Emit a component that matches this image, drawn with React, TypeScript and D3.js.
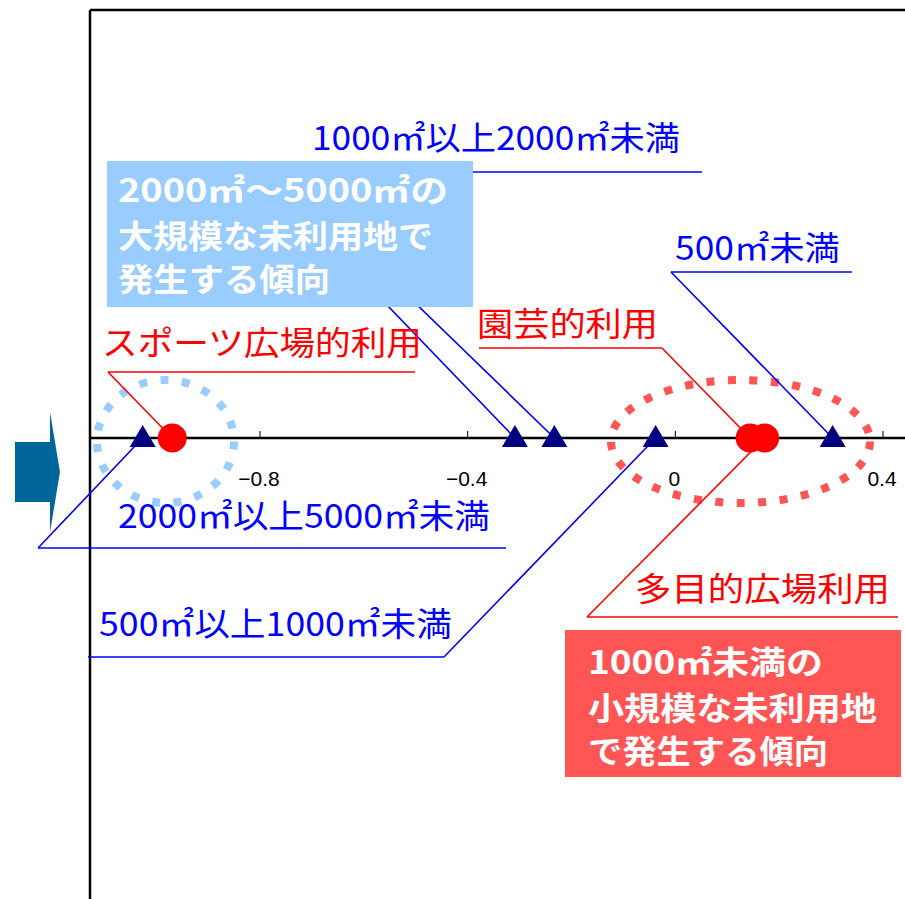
import React from "react";
import * as d3 from "d3";

// ---- data ----
const areaCategories = [
  "2000㎡以上5000㎡未満",
  "5000㎡以上",
  "1000㎡以上2000㎡未満",
  "500㎡以上1000㎡未満",
  "500㎡未満",
];
const areaValues = [-1.026, -0.309, -0.233, -0.038, 0.303];

const useCategories = ["スポーツ広場的利用", "園芸的利用", "多目的広場利用"];
const useValues = [-0.969, 0.144, 0.172];

const tickValues = [-0.8, -0.4, 0, 0.4];
const tickLabels = ["−0.8", "−0.4", "0", "0.4"];

const blueBoxLines = ["2000㎡～5000㎡の", "大規模な未利用地で", "発生する傾向"];
const redBoxLines = ["1000㎡未満の", "小規模な未利用地", "で発生する傾向"];

// ---- layout (positions of annotation labels) ----
type Lab = { tx: number; tw: number; by: number; uy: number; ux1: number; ux2: number; ax: number; show: boolean };
const areaLayout: Lab[] = [
  { tx: 118, tw: 372, by: 528, uy: 548, ux1: 38, ux2: 506, ax: 38, show: true },
  { tx: 0, tw: 0, by: 0, uy: 225, ux1: 310, ux2: 310, ax: 310, show: false },
  { tx: 312, tw: 368, by: 150, uy: 172, ux1: 280, ux2: 702, ax: 280, show: true },
  { tx: 99, tw: 353, by: 636, uy: 657, ux1: 88, ux2: 444, ax: 444, show: true },
  { tx: 675, tw: 165, by: 260, uy: 272, ux1: 671, ux2: 852, ax: 671, show: true },
];
const useLayout: Lab[] = [
  { tx: 102, tw: 320, by: 355, uy: 372, ux1: 108, ux2: 415, ax: 108, show: true },
  { tx: 477, tw: 181, by: 336, uy: 348, ux1: 479, ux2: 662, ax: 662, show: true },
  { tx: 635, tw: 255, by: 601, uy: 617, ux1: 587, ux2: 898, ax: 587, show: true },
];

const W = 905;
const H = 899;
const AXIS_Y = 438;
const FRAME_X = 90;
const FRAME_Y = 10;
const BLUE = "#0000FF";
const RED = "#FF0000";
const NAVY = "#000080";
const LBLUE = "#99CCFF";
const LRED = "#FF5555";
const CJK = "'Noto Sans CJK JP', 'Noto Sans', sans-serif";

export default function App() {
  const x = d3.scaleLinear().domain([-0.8, 0.4]).range([260, 883]);

  const tri = (cx: number, cy: number) => {
    const p = d3.path();
    p.moveTo(cx, cy - 13);
    p.lineTo(cx + 13, cy + 9);
    p.lineTo(cx - 13, cy + 9);
    p.closePath();
    return p.toString();
  };

  const blueBoxW = [330, 315, 212];
  const redBoxW = [235, 289, 240];
  const blueBoxBase = [202, 248, 291];
  const redBoxBase = [674, 720, 763];

  return (
    <svg width={W} height={H} style={{ position: "absolute", left: 0, top: 0, background: "#fff" }}>
      <rect x={0} y={0} width={W} height={H} fill="#fff" />
      {/* frame */}
      <line x1={FRAME_X} y1={FRAME_Y} x2={W} y2={FRAME_Y} stroke="#000" strokeWidth={2.5} />
      <line x1={FRAME_X} y1={FRAME_Y} x2={FRAME_X} y2={H} stroke="#000" strokeWidth={2.5} />

      {/* arrow */}
      <path d="M15,442 L50,442 L50,412 L60,472 L50,532 L50,502 L15,502 Z" fill="#006699" />

      {/* dotted ellipses */}
      <ellipse cx={165.5} cy={441.5} rx={68.5} ry={61.5} fill="none" stroke={LBLUE} strokeWidth={8} strokeDasharray="8 13.5" />
      <ellipse cx={740.5} cy={441.5} rx={129.5} ry={61.5} fill="none" stroke={LRED} strokeWidth={8} strokeDasharray="8 13.5" />

      {/* leader lines: area (blue) */}
      {areaValues.map((v, i) => {
        const L = areaLayout[i];
        return (
          <g key={"al" + i}>
            {L.ux2 !== L.ux1 && <line x1={L.ux1} y1={L.uy} x2={L.ux2} y2={L.uy} stroke={BLUE} strokeWidth={1.6} />}
            <line x1={L.ax} y1={L.uy} x2={x(v)} y2={AXIS_Y} stroke={BLUE} strokeWidth={1.6} />
          </g>
        );
      })}
      {/* leader lines: use (red) */}
      {useValues.map((v, i) => {
        const L = useLayout[i];
        return (
          <g key={"ul" + i}>
            <line x1={L.ux1} y1={L.uy} x2={L.ux2} y2={L.uy} stroke={RED} strokeWidth={1.6} />
            <line x1={L.ax} y1={L.uy} x2={x(v)} y2={AXIS_Y} stroke={RED} strokeWidth={1.6} />
          </g>
        );
      })}

      {/* axis */}
      <line x1={FRAME_X} y1={AXIS_Y} x2={W} y2={AXIS_Y} stroke="#000" strokeWidth={2.5} />
      {tickValues.map((t, i) => (
        <g key={"t" + i}>
          <line x1={x(t)} y1={AXIS_Y - 7} x2={x(t)} y2={AXIS_Y} stroke="#000" strokeWidth={1} />
          <text x={x(t) - 1} y={486} textAnchor="middle" fontFamily="'Liberation Sans', Arial, sans-serif" fontSize={21} fill="#000">
            {tickLabels[i]}
          </text>
        </g>
      ))}

      {/* markers */}
      {areaValues.map((v, i) => (
        <path key={"tri" + i} d={tri(x(v), AXIS_Y)} fill={NAVY} />
      ))}
      {useValues.map((v, i) => (
        <circle key={"c" + i} cx={x(v)} cy={AXIS_Y} r={14.5} fill={RED} />
      ))}

      {/* labels */}
      {areaCategories.map((c, i) => {
        const L = areaLayout[i];
        if (!L.show) return null;
        return (
          <text key={"at" + i} x={L.tx} y={L.by} fontFamily={CJK} fontSize={33} fill={BLUE} textLength={L.tw} lengthAdjust="spacingAndGlyphs">
            {c}
          </text>
        );
      })}
      {useCategories.map((c, i) => {
        const L = useLayout[i];
        return (
          <text key={"ut" + i} x={L.tx} y={L.by} fontFamily={CJK} fontSize={33} fill={RED} textLength={L.tw} lengthAdjust="spacingAndGlyphs">
            {c}
          </text>
        );
      })}

      {/* boxes */}
      <rect x={107} y={161} width={366} height={146} fill={LBLUE} />
      {blueBoxLines.map((s, i) => (
        <text key={"bb" + i} x={118} y={blueBoxBase[i]} fontFamily={CJK} fontWeight="bold" fontSize={32} fill="#fff" textLength={blueBoxW[i]} lengthAdjust="spacingAndGlyphs">
          {s}
        </text>
      ))}
      <rect x={565} y={630} width={336} height={147} fill={LRED} />
      {redBoxLines.map((s, i) => (
        <text key={"rb" + i} x={588} y={redBoxBase[i]} fontFamily={CJK} fontWeight="bold" fontSize={32} fill="#fff" textLength={redBoxW[i]} lengthAdjust="spacingAndGlyphs">
          {s}
        </text>
      ))}
    </svg>
  );
}
